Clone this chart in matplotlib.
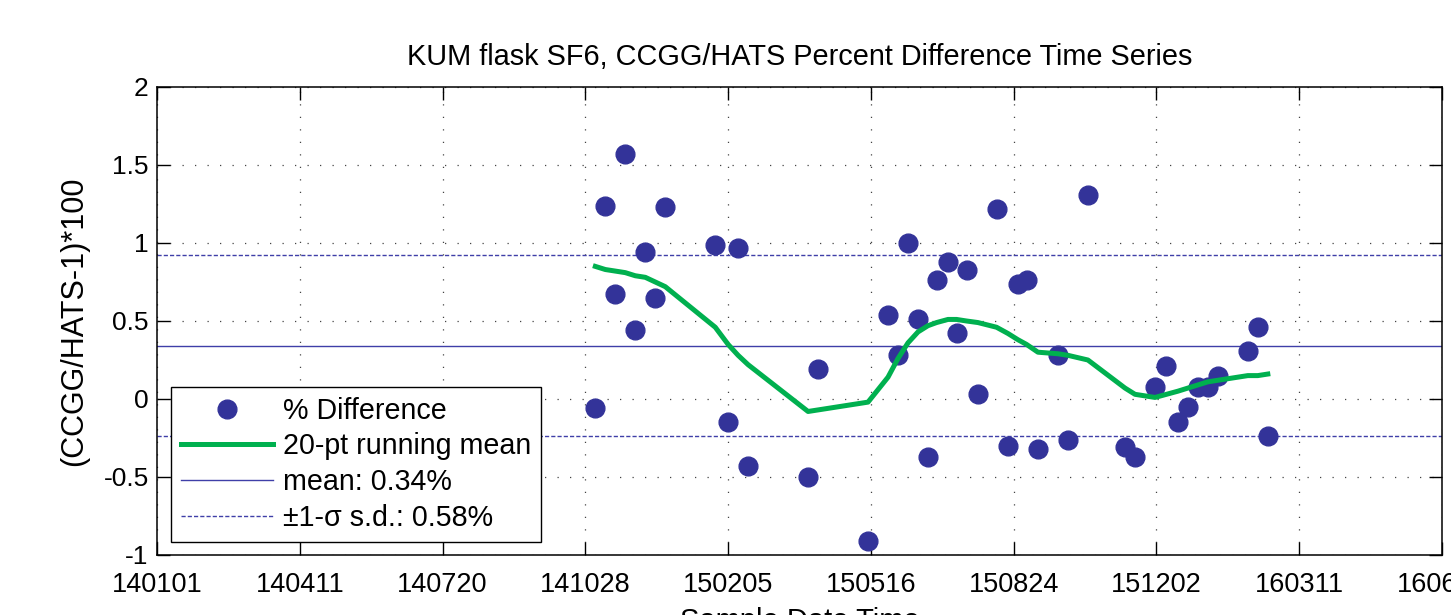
import numpy as np
import matplotlib
matplotlib.use('Agg')
import matplotlib.pyplot as plt
import matplotlib.dates as mdates

plt.rcParams['font.family'] = ['Liberation Sans', 'DejaVu Sans']
plt.rcParams['axes.unicode_minus'] = False

# sample dates and percent differences
sample_dates = [
    '2014-11-04', '2014-11-11', '2014-11-18', '2014-11-25', '2014-12-02',
    '2014-12-09', '2014-12-16', '2014-12-23', '2015-01-27', '2015-02-05',
    '2015-02-12', '2015-02-19', '2015-04-02', '2015-04-09', '2015-05-14',
    '2015-05-28', '2015-06-04', '2015-06-11', '2015-06-18', '2015-06-25',
    '2015-07-01', '2015-07-09', '2015-07-15', '2015-07-22', '2015-07-30',
    '2015-08-12', '2015-08-20', '2015-08-27', '2015-09-02', '2015-09-10',
    '2015-09-24', '2015-10-01', '2015-10-15', '2015-11-10', '2015-11-17',
    '2015-12-01', '2015-12-09', '2015-12-17', '2015-12-24', '2015-12-31',
    '2016-01-07', '2016-01-14', '2016-02-04', '2016-02-11', '2016-02-18',
]
pct_diff = [
    -0.06, 1.24, 0.67, 1.57, 0.44, 0.94, 0.65, 1.23, 0.99, -0.15,
    0.97, -0.43, -0.50, 0.19, -0.91, 0.54, 0.28, 1.00, 0.51, -0.37,
    0.76, 0.88, 0.42, 0.83, 0.03, 1.22, -0.30, 0.74, 0.76, -0.32,
    0.28, -0.26, 1.31, -0.31, -0.37, 0.08, 0.21, -0.15, -0.05, 0.08,
    0.08, 0.15, 0.31, 0.46, -0.24,
]
running_mean = [
    0.85, 0.83, 0.82, 0.81, 0.79, 0.78, 0.75, 0.72, 0.46, 0.35,
    0.28, 0.22, -0.08, -0.07, -0.02, 0.14, 0.26, 0.36, 0.43, 0.47,
    0.49, 0.51, 0.51, 0.50, 0.49, 0.46, 0.42, 0.38, 0.35, 0.30,
    0.29, 0.28, 0.25, 0.07, 0.03, 0.01, 0.03, 0.05, 0.07, 0.09,
    0.11, 0.12, 0.15, 0.15, 0.16,
]
mean_val = 0.34
sd_val = 0.58

dates = np.array(sample_dates, dtype='datetime64[D]')
x_start = np.datetime64('2014-01-01')
x_ticks = x_start + np.arange(0, 901, 100)

fig = plt.figure(figsize=(14.51, 6.15), dpi=100)
ax = fig.add_axes([157/1451, 60/615, 1285/1451, 468/615])

blue = '#333399'
line_blue = '#3f3fa8'
green = '#00b04f'

ax.plot(dates, pct_diff, 'o', color=blue, markersize=13.5, label='% Difference', zorder=3)
ax.plot(dates, running_mean, '-', color=green, linewidth=3.6, label='20-pt running mean', zorder=4)
ax.axhline(mean_val, color=line_blue, linewidth=1.0, label='mean: %.2f%%' % mean_val, zorder=2)
ax.axhline(mean_val + sd_val, color=line_blue, linewidth=1.0, linestyle=(0, (3, 1.5)),
           label='±1-σ s.d.: %.2f%%' % sd_val, zorder=2)
ax.axhline(mean_val - sd_val, color=line_blue, linewidth=1.0, linestyle=(0, (3, 1.5)), zorder=2)

ax.set_xlim(x_ticks[0], x_ticks[-1])
ax.set_ylim(-1, 2)
ax.set_xticks(x_ticks)
ax.xaxis.set_major_formatter(mdates.DateFormatter('%y%m%d'))
ax.set_yticks([-1, -0.5, 0, 0.5, 1, 1.5, 2])
ax.set_yticklabels(['-1', '-0.5', '0', '0.5', '1', '1.5', '2'])

ax.grid(True, linestyle=(0, (1, 9)), color='#444444', linewidth=0.9)
ax.tick_params(direction='in', length=9.5, width=1, top=True, right=True,
               labelsize=19, pad=6)
ax.tick_params(axis='x', labelsize=19.5, pad=12)
for s in ax.spines.values():
    s.set_linewidth(1.1)

ax.set_title('KUM flask SF6, CCGG/HATS Percent Difference Time Series', fontsize=20.8, pad=16)
ax.set_ylabel('(CCGG/HATS-1)*100', fontsize=22, labelpad=10)
ax.set_xlabel('Sample Date Time', fontsize=21, labelpad=7)

leg = ax.legend(loc='lower left', bbox_to_anchor=(0.011, 0.028), borderaxespad=0,
                fontsize=20.6, handlelength=3.2, handletextpad=0.35, labelspacing=0.27,
                borderpad=0.35, fancybox=False, framealpha=1, edgecolor='black')
leg.get_frame().set_linewidth(1.0)

fig.savefig('out.png', dpi=100)
